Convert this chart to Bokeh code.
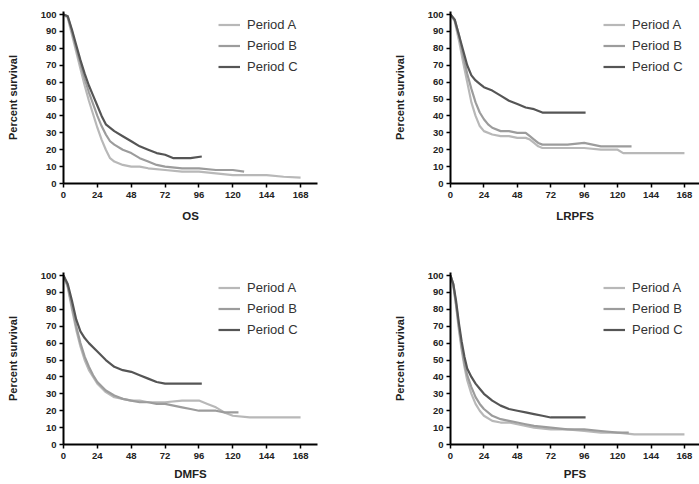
from bokeh.plotting import figure
from bokeh.layouts import column, row
from bokeh.models import Legend, LegendItem, FixedTicker, Range1d
from bokeh.embed import file_html
from bokeh.resources import INLINE

periods = ["Period A", "Period B", "Period C"]
colors = ["#b8b8b8", "#9c9c9c", "#555555"]

# ---- OS ----
os_a_month = [0, 3, 6, 9, 12, 15, 18, 21, 24, 27, 30, 33, 36, 42, 48, 54, 60, 72, 84, 96, 108, 120, 132, 144, 156, 168]
os_a_surv = [100, 98, 88, 78, 68, 58, 49, 41, 33, 26, 20, 15, 13, 11, 10, 10, 9, 8, 7, 7, 6, 5, 5, 5, 4, 3.5]
os_b_month = [0, 3, 6, 9, 12, 15, 18, 21, 24, 27, 30, 33, 36, 42, 48, 54, 60, 66, 72, 84, 96, 108, 120, 128]
os_b_surv = [100, 99, 90, 80, 71, 62, 54, 47, 40, 34, 29, 25, 23, 20, 18, 15, 13, 11, 10, 9, 9, 8, 8, 7]
os_c_month = [0, 3, 6, 9, 12, 15, 18, 21, 24, 27, 30, 36, 42, 48, 54, 60, 66, 72, 78, 84, 90, 98]
os_c_surv = [100, 99, 91, 82, 73, 65, 58, 52, 46, 40, 35, 31, 28, 25, 22, 20, 18, 17, 15, 15, 15, 16]

# ---- LRPFS ----
lr_a_month = [0, 3, 6, 9, 12, 15, 18, 21, 24, 30, 36, 42, 48, 54, 57, 60, 63, 66, 72, 84, 96, 108, 120, 124, 132, 144, 156, 168]
lr_a_surv = [100, 96, 85, 72, 60, 48, 40, 34, 31, 29, 28, 28, 27, 27, 26, 24, 22, 21, 21, 21, 21, 20, 20, 18, 18, 18, 18, 18]
lr_b_month = [0, 3, 6, 9, 12, 15, 18, 21, 24, 27, 30, 36, 42, 48, 54, 57, 60, 63, 66, 72, 84, 96, 108, 120, 130]
lr_b_surv = [100, 97, 88, 76, 65, 56, 48, 42, 38, 35, 33, 31, 31, 30, 30, 28, 26, 24, 23, 23, 23, 24, 22, 22, 22]
lr_c_month = [0, 3, 6, 9, 12, 15, 18, 21, 24, 30, 36, 42, 48, 54, 60, 66, 72, 84, 97]
lr_c_surv = [100, 97, 88, 79, 70, 64, 61, 59, 57, 55, 52, 49, 47, 45, 44, 42, 42, 42, 42]

# ---- DMFS ----
dm_a_month = [0, 3, 6, 9, 12, 15, 18, 21, 24, 30, 36, 42, 48, 54, 60, 72, 84, 96, 102, 108, 114, 120, 132, 144, 156, 168]
dm_a_surv = [100, 93, 80, 68, 58, 50, 44, 40, 36, 31, 28, 27, 26, 26, 25, 25, 26, 26, 24, 22, 19, 17, 16, 16, 16, 16]
dm_b_month = [0, 3, 6, 9, 12, 15, 18, 21, 24, 30, 36, 42, 48, 54, 60, 66, 72, 78, 84, 90, 96, 102, 108, 114, 120, 124]
dm_b_surv = [100, 94, 82, 70, 60, 52, 46, 41, 37, 32, 29, 27, 26, 25, 25, 24, 24, 23, 22, 21, 20, 20, 20, 19, 19, 19]
dm_c_month = [0, 3, 6, 9, 12, 15, 18, 24, 30, 36, 42, 48, 54, 60, 66, 72, 84, 98]
dm_c_surv = [100, 95, 85, 74, 67, 63, 60, 55, 50, 46, 44, 43, 41, 39, 37, 36, 36, 36]

# ---- PFS ----
pf_a_month = [0, 2, 4, 6, 8, 10, 12, 15, 18, 21, 24, 30, 36, 42, 48, 54, 60, 72, 84, 96, 108, 120, 132, 144, 156, 168]
pf_a_surv = [100, 94, 82, 68, 56, 46, 38, 30, 24, 20, 17, 14, 13, 13, 12, 11, 10, 9, 9, 8, 7, 7, 6, 6, 6, 6]
pf_b_month = [0, 2, 4, 6, 8, 10, 12, 15, 18, 21, 24, 30, 36, 42, 48, 54, 60, 72, 84, 96, 108, 120, 128]
pf_b_surv = [100, 95, 83, 70, 58, 48, 41, 34, 28, 24, 21, 17, 15, 14, 13, 12, 11, 10, 9, 9, 8, 7, 7]
pf_c_month = [0, 2, 4, 6, 8, 10, 12, 15, 18, 21, 24, 30, 36, 42, 48, 54, 60, 66, 72, 84, 97]
pf_c_surv = [100, 95, 85, 72, 61, 52, 45, 40, 36, 33, 30, 26, 23, 21, 20, 19, 18, 17, 16, 16, 16]

x_ticks = [0, 24, 48, 72, 96, 120, 144, 168]
y_ticks = [0, 10, 20, 30, 40, 50, 60, 70, 80, 90, 100]

FONT = "Liberation Sans"


def panel(name, series, width, left, right, top, bottom, xend, label_standoff, leg_loc):
    p = figure(width=width, height=242, output_backend="svg", toolbar_location=None,
               min_border_left=left, min_border_right=right,
               min_border_top=top, min_border_bottom=bottom,
               x_range=Range1d(0, xend), y_range=Range1d(0, 101.8))
    p.grid.visible = False
    p.outline_line_color = None
    p.background_fill_color = "white"
    p.border_fill_color = "white"
    items = []
    for (mx, sv), lab, col in zip(series, periods, colors):
        r = p.line(mx, sv, line_color=col, line_width=2.2, line_join="round")
        items.append(LegendItem(label=lab, renderers=[r]))
    for ax in (p.xaxis[0], p.yaxis[0]):
        ax.axis_line_width = 2
        ax.axis_line_color = "black"
        ax.major_tick_in = 0
        ax.major_tick_out = 4
        ax.major_tick_line_width = 1.5
        ax.major_tick_line_color = "black"
        ax.minor_tick_out = 0
        ax.minor_tick_in = 0
        ax.major_label_text_font = FONT
        ax.major_label_text_font_style = "bold"
        ax.major_label_text_font_size = "9.5px"
        ax.major_label_text_color = "#222222"
        ax.axis_label_text_font = FONT
        ax.axis_label_text_font_style = "bold"
        ax.axis_label_text_color = "#222222"
    p.xaxis[0].ticker = FixedTicker(ticks=x_ticks)
    p.yaxis[0].ticker = FixedTicker(ticks=y_ticks)
    p.xaxis[0].major_label_standoff = 4
    p.yaxis[0].major_label_standoff = 3
    p.yaxis[0].axis_label = "Percent survival"
    p.yaxis[0].axis_label_text_font_size = "11px"
    p.yaxis[0].axis_label_standoff = 19
    p.xaxis[0].axis_label = name
    p.xaxis[0].axis_label_text_font_size = "11.5px"
    p.xaxis[0].axis_label_standoff = label_standoff
    leg = Legend(items=items, location=leg_loc, padding=0, margin=0, spacing=0,
                 glyph_width=22, glyph_height=21, label_height=21, label_standoff=7,
                 label_text_font=FONT, label_text_font_size="13px", label_text_color="#333333",
                 border_line_color=None, background_fill_alpha=0)
    p.add_layout(leg, "center")
    return p


p1 = panel("OS", [(os_a_month, os_a_surv), (os_b_month, os_b_surv), (os_c_month, os_c_surv)],
           350, 63, 33, 11, 59, 180.0, 9, (155, 106))
p2 = panel("LRPFS", [(lr_a_month, lr_a_surv), (lr_b_month, lr_b_surv), (lr_c_month, lr_c_surv)],
           349, 100, 0, 11, 59, 178.8, 9, (153, 106))
p3 = panel("DMFS", [(dm_a_month, dm_a_surv), (dm_b_month, dm_b_surv), (dm_c_month, dm_c_surv)],
           350, 63, 33, 30, 40, 180.0, 6, (155, 104))
p4 = panel("PFS", [(pf_a_month, pf_a_surv), (pf_b_month, pf_b_surv), (pf_c_month, pf_c_surv)],
           349, 100, 0, 30, 40, 178.8, 6, (153, 104))

layout = column(row(p1, p2), row(p3, p4))
open("out.html", "w").write(file_html(layout, INLINE))
